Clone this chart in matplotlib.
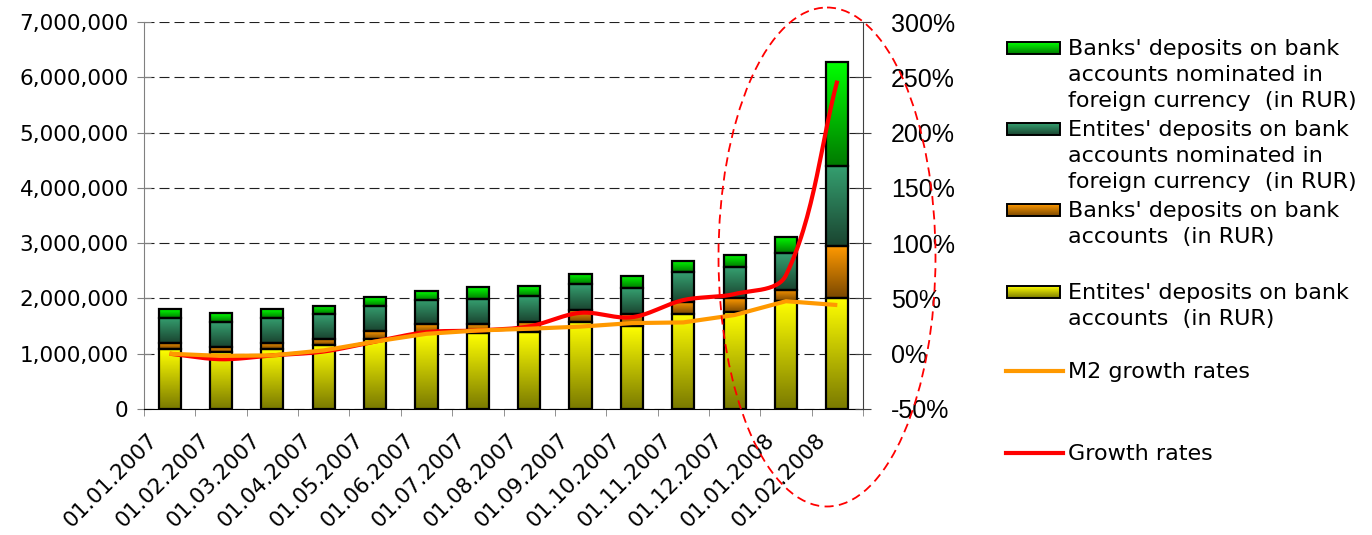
import numpy as np
import matplotlib
matplotlib.use('Agg')
import matplotlib.pyplot as plt
import matplotlib.transforms as mtransforms
from matplotlib.colors import LinearSegmentedColormap
from matplotlib.patches import Rectangle, Ellipse
from matplotlib.ticker import FuncFormatter, FixedLocator

# данные
dates = ['01.01.2007', '01.02.2007', '01.03.2007', '01.04.2007', '01.05.2007',
         '01.06.2007', '01.07.2007', '01.08.2007', '01.09.2007', '01.10.2007',
         '01.11.2007', '01.12.2007', '01.01.2008', '01.02.2008']
entities_rur = [1080000, 1040000, 1080000, 1160000, 1270000, 1380000, 1370000,
                1400000, 1580000, 1510000, 1720000, 1760000, 1960000, 2010000]
banks_rur = [110000, 90000, 110000, 110000, 140000, 160000, 170000,
             180000, 210000, 210000, 220000, 250000, 200000, 940000]
entities_fx = [460000, 450000, 460000, 450000, 460000, 440000, 450000,
               470000, 470000, 470000, 540000, 550000, 660000, 1450000]
banks_fx = [150000, 150000, 150000, 150000, 150000, 150000, 210000,
            180000, 190000, 220000, 200000, 220000, 290000, 1880000]
m2_growth = [0, -2, -1.5, 3, 11, 18, 21, 22.6, 24.5, 27.7, 28.3, 35, 47.5, 44]
growth = [0, -5, -1.5, 2, 11, 19.5, 21, 24.7, 37, 33, 48.5, 54, 71, 247]

labels = ["Banks' deposits on bank\naccounts nominated in\nforeign currency  (in RUR)",
          "Entites' deposits on bank\naccounts nominated in\nforeign currency  (in RUR)",
          "Banks' deposits on bank\naccounts  (in RUR)",
          "Entites' deposits on bank\naccounts  (in RUR)",
          "M2 growth rates",
          "Growth rates"]

cmaps = {
    'green': LinearSegmentedColormap.from_list('g', ['#007a00', '#00ff00']),
    'teal': LinearSegmentedColormap.from_list('t', ['#1a4430', '#35a070']),
    'orange': LinearSegmentedColormap.from_list('o', ['#7a4800', '#ff9900']),
    'yellow': LinearSegmentedColormap.from_list('y', ['#7a7a00', '#ffff00']),
}
grad = np.linspace(0, 1, 100).reshape(-1, 1)


def smooth(xs, ys, sx, sy, k=0.33, n=30):
    # сглаживание как в Excel: кривые Безье, плечи пропорциональны длине отрезка
    p = np.column_stack([np.asarray(xs, float) * sx, np.asarray(ys, float) * sy])
    m = len(p)
    d = np.zeros_like(p)
    for i in range(m):
        v = p[min(i + 1, m - 1)] - p[max(i - 1, 0)]
        d[i] = v / np.hypot(*v)
    out = [p[0]]
    t = np.linspace(0, 1, n)[1:, None]
    for i in range(m - 1):
        L = np.hypot(*(p[i + 1] - p[i]))
        c1 = p[i] + d[i] * L * k
        c2 = p[i + 1] - d[i + 1] * L * k
        seg = ((1 - t) ** 3 * p[i] + 3 * (1 - t) ** 2 * t * c1 +
               3 * (1 - t) * t ** 2 * c2 + t ** 3 * p[i + 1])
        out.extend(seg)
    out = np.array(out)
    return out[:, 0] / sx, out[:, 1] / sy


plt.rcParams['font.family'] = 'DejaVu Sans'
fig = plt.figure(figsize=(13.72, 5.35), dpi=100)
W, H = 1372, 535
ax = fig.add_axes([144 / W, 1 - 409 / H, 719 / W, 387 / H])

x = np.arange(len(dates))
width = 0.43
bottom = np.zeros(len(dates))
for vals, cname in ((entities_rur, 'yellow'), (banks_rur, 'orange'),
                    (entities_fx, 'teal'), (banks_fx, 'green')):
    bars = ax.bar(x, vals, width, bottom=bottom, facecolor='none',
                  edgecolor='black', linewidth=1.6, zorder=4)
    for r in bars:
        im = ax.imshow(grad, extent=[r.get_x(), r.get_x() + r.get_width(),
                                     r.get_y(), r.get_y() + r.get_height()],
                       origin='lower', aspect='auto', cmap=cmaps[cname], zorder=3)
        im.set_clip_path(r)
    bottom += np.array(vals)

ax.set_xlim(-0.5, len(dates) - 0.5)
ax.set_ylim(0, 7000000)
ax.set_yticks(np.arange(0, 7000001, 1000000))
ax.yaxis.set_major_formatter(FuncFormatter(lambda v, p: f'{int(v):,}'))
ax.yaxis.grid(True, color='#202020', linestyle=(0, (9, 4.5)), linewidth=0.8)
ax.set_axisbelow(True)
ax.set_xticks(x)
ax.xaxis.set_minor_locator(FixedLocator(np.arange(-0.5, len(dates), 1)))
ax.tick_params(axis='x', which='major', length=0, pad=12)
ax.tick_params(axis='x', which='minor', length=5, color='#808080')
ax.tick_params(axis='y', labelsize=15.5, direction='inout', length=10, color='#808080', pad=6)
ax.set_xticklabels(dates, rotation=45, ha='right', rotation_mode='anchor', fontsize=15.5)
shift = mtransforms.ScaledTranslation(-0.22, -0.04, fig.dpi_scale_trans)
for t in ax.get_xticklabels():
    t.set_transform(t.get_transform() + shift)
ax.spines['top'].set_visible(False)
ax.spines['left'].set_color('#808080')
ax.spines['right'].set_visible(False)

ax2 = ax.twinx()
ax2.set_ylim(-50, 300)
ax2.set_yticks(np.arange(-50, 301, 50))
ax2.yaxis.set_major_formatter(FuncFormatter(lambda v, p: f'{int(v)}%'))
ax2.tick_params(axis='y', direction='inout', length=12, color='#404040', pad=14)
for t in ax2.get_yticklabels():
    t.set_fontfamily('Liberation Sans')
    t.set_fontsize(18)
ax2.spines['right'].set_color('#404040')
for s in ('top', 'left', 'bottom'):
    ax2.spines[s].set_visible(False)

# масштаб пикселей на единицу по осям
px_x = 719 / len(dates)
px_y = 387 / 350
sx, sy = smooth(x, growth, px_x, px_y)
ax2.plot(sx, sy, color='#ff0000', linewidth=3, solid_capstyle='butt', zorder=5)
ax2.plot(x, m2_growth, color='#ff9900', linewidth=3, solid_capstyle='butt', zorder=6)

# легенда и эллипс в пикселях
ov = fig.add_axes([0, 0, 1, 1], zorder=10)
ov.axis('off')
ov.patch.set_alpha(0)

tops = [40, 121, 202, 284]
for top, cname, lab in zip(tops, ['green', 'teal', 'orange', 'yellow'], labels[:4]):
    r = Rectangle((1007, top + 2), 53, 12, facecolor='none', edgecolor='black', linewidth=1.4)
    ov.add_patch(r)
    im = ov.imshow(grad, extent=[1007, 1060, top + 14, top + 2], origin='lower',
                   aspect='auto', cmap=cmaps[cname])
    im.set_clip_path(r)
    ov.text(1068, top - 1, lab, fontsize=16, va='top', ha='left', linespacing=1.38)

for yl, col, lab in ((371, '#ff9900', labels[4]), (453, '#ff0000', labels[5])):
    ov.plot([1006, 1063], [yl, yl], color=col, linewidth=3)
    ov.text(1068, yl - 9, lab, fontsize=16, va='top', ha='left')

ov.add_patch(Ellipse((827, 257), 217, 499, fill=False, edgecolor='#ff0000',
                     linestyle=(0, (5, 3)), linewidth=1.3))
ov.set_xlim(0, W)
ov.set_ylim(H, 0)

plt.savefig('out.png', dpi=100)
